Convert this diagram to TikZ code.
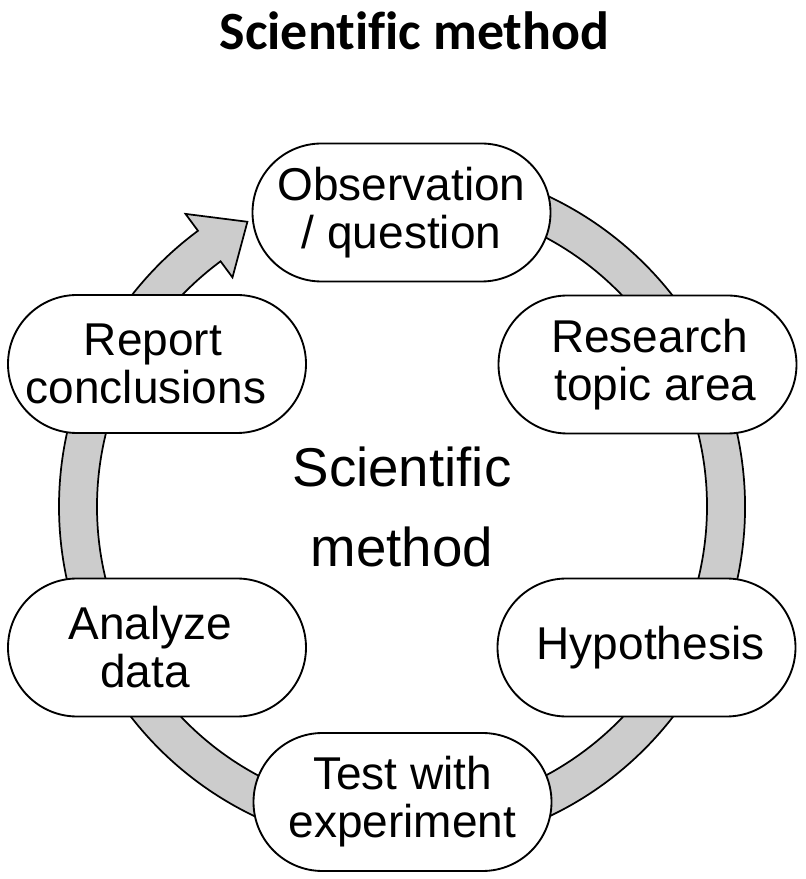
\documentclass[tikz,border=0pt]{standalone}
\usepackage{fontspec}
\setmainfont{Liberation Sans}
\newfontfamily\titlefont[Ligatures=NoCommon]{Carlito}
\usetikzlibrary{calc}
% move one centred line sideways without changing its width
\newcommand\nudge[2]{\hspace*{#1}#2\hspace*{-#1}}
\begin{document}
\begin{tikzpicture}[x=0.75pt,y=0.75pt,
  stepbox/.style={draw=black, line width=1.4pt, fill=white,
    rounded corners=51.75pt, minimum width=223.5pt, minimum height=103.5pt,
    inner sep=0pt, align=center, font=\fontsize{34.5}{36}\selectfont},
  cycleband/.style={draw=black, line width=1.3pt, fill=black!20, line join=miter},
  centertext/.style={align=center, font=\fontsize{41}{60}\selectfont},
  titletext/.style={anchor=base, font=\titlefont\bfseries\fontsize{40.4}{46}\selectfont}]
\useasboundingbox (0,0) rectangle (806,879);
\coordinate (C) at (402,372.5);
% circular band running clockwise, ending in an arrow head at the top left
\draw[cycleband] ($(C)+(100:343)$) arc[start angle=100, end angle=-233.5, radius=343]
  -- ($(C)+(-233.5:364)$) -- ($(C)+(-241.5:324)$) -- ($(C)+(-233.5:285)$)
  -- ($(C)+(-233.5:305)$)
  arc[start angle=-233.5, end angle=100, radius=305] -- cycle;
% the six steps
\node[stepbox] (obs)  at (401.5,666.5) {Observation\\/ question};
\node[stepbox] (res)  at (647.5,514.5) {\nudge{1.5pt}{Research}\\\nudge{6pt}{topic area}};
\node[stepbox] (hyp)  at (646.5,231.5) {\nudge{3pt}{Hypothesis}};
\node[stepbox] (test) at (402.5,77)    {Test with\\experiment};
\node[stepbox] (ana)  at (157,231.5)   {\nudge{-5pt}{Analyze}\\\nudge{-9pt}{data}};
\node[stepbox] (rep)  at (157,515)     {\nudge{-3pt}{Report}\\\nudge{-8.25pt}{conclusions}};
% labels
\node[centertext] (mid) at (C) {Scientific\\method};
\node[titletext] (title) at (414.5,829) {Scientific method};
\end{tikzpicture}
\end{document}
